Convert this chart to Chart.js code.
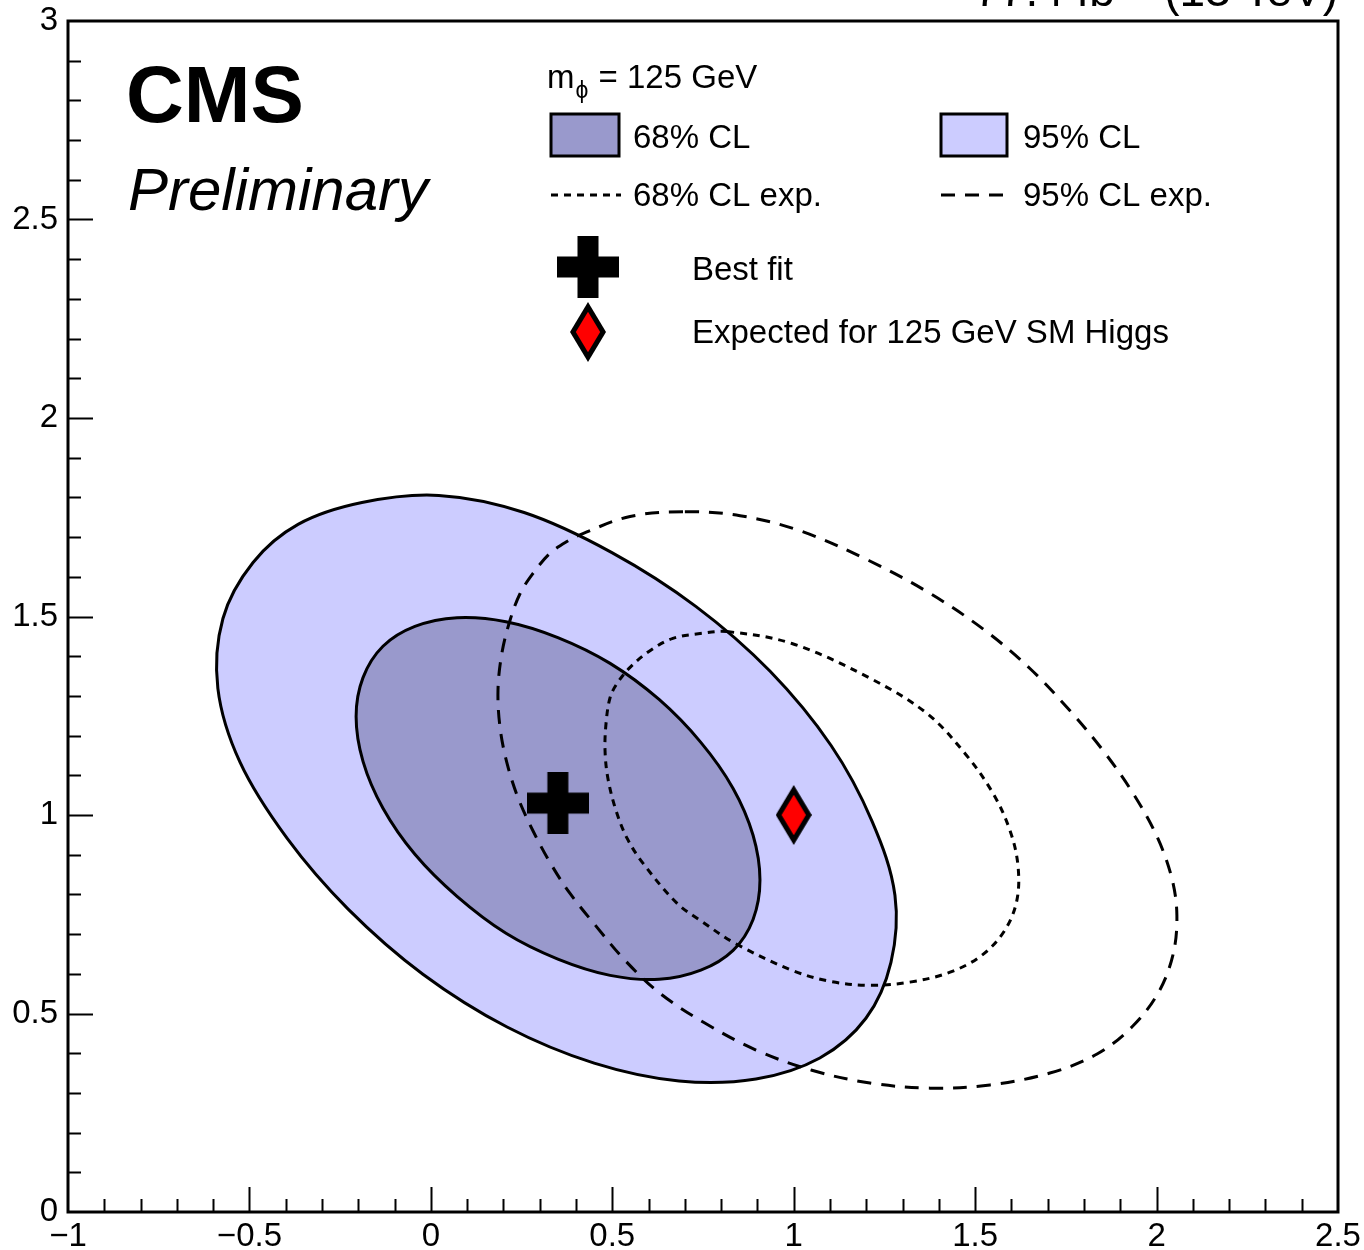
<!DOCTYPE html>
<html>
<head>
<meta charset="utf-8">
<script src="https://cdn.jsdelivr.net/npm/chart.js@4.4.1/dist/chart.umd.min.js"></script>
<style>
  html, body { margin: 0; padding: 0; background: #fff; }
</style>
</head>
<body>
<canvas id="myChart" width="1364" height="1250"></canvas>
<script>
const FONT = '"Liberation Sans", Arial, Helvetica, sans-serif';

// observed 95% CL contour
const obs95X = [1.199, 1.072, 0.896, 0.684, 0.450, 0.210, -0.022, -0.228, -0.396, -0.526, -0.587, -0.573, -0.490, -0.366, -0.190, 0.022, 0.257, 0.499, 0.731, 0.935, 1.103, 1.216, 1.279, 1.268];
const obs95Y = [0.488, 0.388, 0.335, 0.330, 0.375, 0.466, 0.599, 0.763, 0.941, 1.133, 1.319, 1.495, 1.636, 1.732, 1.787, 1.805, 1.762, 1.661, 1.525, 1.362, 1.175, 0.984, 0.798, 0.629];

// observed 68% CL contour
const obs68X = [0.907, 0.888, 0.833, 0.744, 0.629, 0.494, 0.350, 0.207, 0.072, -0.044, -0.132, -0.187, -0.206, -0.187, -0.132, -0.044, 0.072, 0.207, 0.350, 0.494, 0.629, 0.744, 0.833, 0.888];
const obs68Y = [0.836, 0.737, 0.659, 0.609, 0.586, 0.596, 0.637, 0.702, 0.795, 0.901, 1.017, 1.135, 1.248, 1.346, 1.425, 1.475, 1.497, 1.487, 1.447, 1.382, 1.291, 1.183, 1.067, 0.949];

// expected 95% CL contour
const exp95X = [0.700, 0.852, 1.017, 1.207, 1.376, 1.527, 1.651, 1.761, 1.852, 1.935, 2.001, 2.042, 2.056, 2.045, 2.004, 1.932, 1.836, 1.706, 1.541, 1.376, 1.210, 1.050, 0.896, 0.755, 0.631, 0.535, 0.458, 0.383, 0.328, 0.281, 0.240, 0.210, 0.191, 0.185, 0.196, 0.218, 0.246, 0.281, 0.328, 0.375, 0.419, 0.549];
const exp95Y = [1.764, 1.754, 1.716, 1.641, 1.558, 1.465, 1.369, 1.263, 1.163, 1.055, 0.946, 0.841, 0.747, 0.647, 0.551, 0.466, 0.398, 0.350, 0.320, 0.312, 0.325, 0.357, 0.408, 0.476, 0.551, 0.634, 0.717, 0.803, 0.881, 0.961, 1.044, 1.130, 1.218, 1.314, 1.409, 1.490, 1.558, 1.608, 1.659, 1.689, 1.709, 1.752];

// expected 68% CL contour
const exp68X = [0.816, 0.995, 1.207, 1.367, 1.472, 1.549, 1.596, 1.618, 1.615, 1.582, 1.519, 1.431, 1.320, 1.210, 1.100, 0.995, 0.838, 0.742, 0.678, 0.585, 0.541, 0.510, 0.488, 0.480, 0.483, 0.494, 0.513, 0.549, 0.604, 0.667, 0.742];
const exp68Y = [1.462, 1.432, 1.346, 1.256, 1.155, 1.055, 0.961, 0.873, 0.785, 0.710, 0.647, 0.604, 0.579, 0.571, 0.581, 0.609, 0.677, 0.735, 0.778, 0.878, 0.941, 1.012, 1.092, 1.163, 1.233, 1.296, 1.331, 1.372, 1.414, 1.445, 1.457];

const bestFit = { x: 0.35, y: 1.03 };
const smExpected = { x: 1.0, y: 1.0 };

const xRange = [-1, 2.5];
const yRange = [0, 3];
const tickStep = 0.5;

const legendLabels = ['68% CL', '95% CL', '68% CL exp.', '95% CL exp.', 'Best fit', 'Expected for 125 GeV SM Higgs'];

const COL95 = 'rgb(204,204,255)';
const COL68 = 'rgb(153,153,204)';
const DASH95 = [14, 10];
const DASH68 = [7, 6];
const TENSION = 0.35;

const toPoints = (xs, ys) => xs.map((x, i) => ({ x: x, y: ys[i] }));

function crossImage(size, bar) {
  const c = document.createElement('canvas');
  c.width = size; c.height = size;
  const g = c.getContext('2d');
  g.fillStyle = '#000';
  const o = (size - bar) / 2;
  g.fillRect(o, 0, bar, size);
  g.fillRect(0, o, size, bar);
  return c;
}

function diamondImage(w, h, t) {
  const c = document.createElement('canvas');
  c.width = w; c.height = h;
  const g = c.getContext('2d');
  const a = w / 2, b = h / 2;
  const d = Math.sqrt(a * a + b * b);
  const path = (ha, hb) => {
    g.beginPath();
    g.moveTo(a, b - hb); g.lineTo(a + ha, b); g.lineTo(a, b + hb); g.lineTo(a - ha, b);
    g.closePath();
  };
  path(a, b); g.fillStyle = '#000'; g.fill();
  path(a - t * d / b, b - t * d / a); g.fillStyle = '#ff0000'; g.fill();
  return c;
}

const crossImg = crossImage(62, 21);
const diamondImg = diamondImage(36, 60, 5);

function fmt(v) {
  const s = String(Math.round(v * 10) / 10);
  return s.replace('-', '\u2212');
}

// make the contour lines closed loops (like the radar controller does)
const closeLoops = {
  id: 'closeLoops',
  afterDatasetUpdate(chart, args) {
    const ds = chart.data.datasets[args.index];
    if (!ds.closed) return;
    const line = args.meta.dataset;
    line._loop = true;
    line._fullLoop = true;
    line._pointsUpdated = false;
    delete line._segments;
    delete line._path;
  }
};

const decor = {
  id: 'decor',
  afterDraw(chart) {
    const { ctx, chartArea: a, scales: { x, y } } = chart;
    ctx.save();
    // frame
    ctx.strokeStyle = '#000';
    ctx.lineWidth = 3;
    ctx.strokeRect(a.left, a.top, a.right - a.left, a.bottom - a.top);
    // inward ticks, 5 subdivisions
    ctx.lineWidth = 2;
    ctx.beginPath();
    const nx = Math.round((xRange[1] - xRange[0]) / 0.1);
    for (let i = 1; i < nx; i++) {
      const px = Math.round(x.getPixelForValue(xRange[0] + i * 0.1)) + 0.5;
      const len = i % 5 === 0 ? 25 : 13;
      ctx.moveTo(px, a.bottom); ctx.lineTo(px, a.bottom - len);
    }
    const ny = Math.round((yRange[1] - yRange[0]) / 0.1);
    for (let i = 1; i < ny; i++) {
      const py = Math.round(y.getPixelForValue(yRange[0] + i * 0.1)) + 0.5;
      const len = i % 5 === 0 ? 25 : 13;
      ctx.moveTo(a.left, py); ctx.lineTo(a.left + len, py);
    }
    ctx.stroke();

    // CMS labels
    ctx.fillStyle = '#000';
    ctx.textAlign = 'left';
    ctx.textBaseline = 'alphabetic';
    ctx.font = 'bold 80px ' + FONT;
    ctx.fillText('CMS', 126, 122);
    ctx.font = 'italic 60px ' + FONT;
    ctx.fillText('Preliminary', 128, 210);

    // luminosity label (cut by the top edge)
    ctx.font = '46px ' + FONT;
    ctx.textAlign = 'right';
    const right = a.right;
    ctx.fillText(' (13 TeV)', right, 6);
    const w1 = ctx.measureText(' (13 TeV)').width;
    ctx.font = '32px ' + FONT;
    ctx.fillText('\u22121', right - w1, -12);
    const w2 = ctx.measureText('\u22121').width;
    ctx.font = '46px ' + FONT;
    ctx.fillText('77.4 fb', right - w1 - w2, 6);

    // legend
    ctx.textAlign = 'left';
    ctx.font = '33px ' + FONT;
    ctx.fillText('m', 547, 88);
    const mw = ctx.measureText('m').width;
    ctx.font = '23px ' + FONT;
    ctx.fillText('\u03D5', 547 + mw + 1, 98);
    const pw = ctx.measureText('\u03D5').width;
    ctx.font = '33px ' + FONT;
    ctx.fillText(' = 125 GeV', 547 + mw + pw + 2, 88);

    ctx.lineWidth = 3;
    ctx.fillStyle = COL68;
    ctx.fillRect(551, 114, 68, 42);
    ctx.strokeRect(551, 114, 68, 42);
    ctx.fillStyle = COL95;
    ctx.fillRect(941, 114, 66, 42);
    ctx.strokeRect(941, 114, 66, 42);

    ctx.beginPath();
    ctx.setLineDash(DASH68);
    ctx.moveTo(551, 195); ctx.lineTo(621, 195);
    ctx.stroke();
    ctx.beginPath();
    ctx.setLineDash(DASH95);
    ctx.moveTo(941, 195); ctx.lineTo(1008, 195);
    ctx.stroke();
    ctx.setLineDash([]);

    ctx.fillStyle = '#000';
    ctx.font = '33px ' + FONT;
    ctx.fillText(legendLabels[0], 633, 148);
    ctx.fillText(legendLabels[1], 1023, 148);
    ctx.fillText(legendLabels[2], 633, 206);
    ctx.fillText(legendLabels[3], 1023, 206);
    ctx.fillText(legendLabels[4], 692, 280);
    ctx.fillText(legendLabels[5], 692, 343);

    ctx.drawImage(crossImg, 588 - crossImg.width / 2, 267 - crossImg.height / 2);
    ctx.drawImage(diamondImg, 588 - diamondImg.width / 2, 332 - diamondImg.height / 2);
    ctx.restore();
  }
};

const contour = (label, xs, ys, extra) => Object.assign({
  label: label,
  data: toPoints(xs, ys),
  closed: true,
  showLine: true,
  borderColor: '#000',
  borderWidth: 3,
  tension: TENSION,
  pointRadius: 0,
}, extra);

const ctx = document.getElementById('myChart');
const myChart = new Chart(ctx, {
  type: 'scatter',
  data: {
    datasets: [
      contour(legendLabels[1], obs95X, obs95Y, { fill: 'shape', backgroundColor: COL95, order: 5 }),
      contour(legendLabels[0], obs68X, obs68Y, { fill: 'shape', backgroundColor: COL68, order: 4 }),
      contour(legendLabels[3], exp95X, exp95Y, { fill: false, borderDash: DASH95, order: 3 }),
      contour(legendLabels[2], exp68X, exp68Y, { fill: false, borderDash: DASH68, order: 2 }),
      {
        label: legendLabels[4],
        data: [bestFit],
        pointStyle: crossImg,
        pointRadius: 20,
        order: 1,
      },
      {
        label: legendLabels[5],
        data: [smExpected],
        pointStyle: diamondImg,
        pointRadius: 20,
        order: 0,
      },
    ],
  },
  options: {
    responsive: false,
    devicePixelRatio: 1,
    animation: false,
    layout: { padding: { top: 20, right: 26, left: 0, bottom: 0 } },
    plugins: {
      legend: { display: false },
      tooltip: { enabled: false },
    },
    scales: {
      x: {
        type: 'linear',
        min: xRange[0],
        max: xRange[1],
        grid: { display: false, drawTicks: false },
        border: { display: false },
        ticks: {
          stepSize: tickStep,
          padding: 5,
          color: '#000',
          maxRotation: 0,
          autoSkip: false,
          font: { family: FONT, size: 33 },
          callback: fmt,
        },
        afterFit: (s) => { s.height = 38; s.paddingLeft = 0; s.paddingRight = 0; },
      },
      y: {
        type: 'linear',
        min: yRange[0],
        max: yRange[1],
        grid: { display: false, drawTicks: false },
        border: { display: false },
        ticks: {
          stepSize: tickStep,
          padding: 10,
          color: '#000',
          autoSkip: false,
          font: { family: FONT, size: 33 },
          callback: fmt,
        },
        afterFit: (s) => { s.width = 68; s.paddingTop = 0; s.paddingBottom = 0; },
      },
    },
  },
  plugins: [closeLoops, decor],
});
</script>
</body>
</html>
